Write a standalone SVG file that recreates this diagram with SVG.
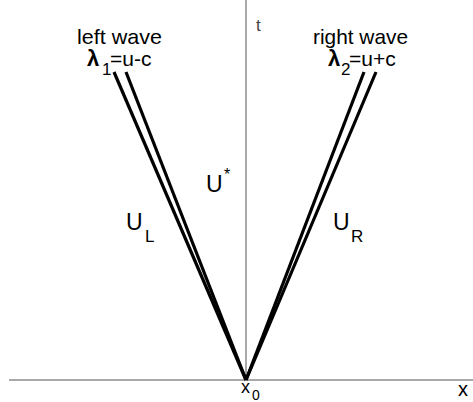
<svg xmlns="http://www.w3.org/2000/svg" width="473" height="402" viewBox="0 0 473 402">
<style>
.axis{stroke:#8c8c8c;stroke-width:1.5;fill:none}
.wave{stroke:#000;stroke-width:3.2;fill:none;stroke-linecap:butt}
text{font-family:"Liberation Sans",Arial,sans-serif;fill:#000}
.lbl{font-size:21px}
.st{font-size:23px}
.sub{font-size:17px}
</style>
<rect width="473" height="402" fill="#fff"/>
<g id="axes">
<line class="axis" x1="246" y1="0" x2="246" y2="380"/>
<line class="axis" x1="9" y1="380" x2="473" y2="380"/>
<text x="256" y="31" style="font-size:17px;fill:#444">t</text>
<text x="458" y="396" style="font-size:20px">x</text>
<text x="241" y="393" style="font-size:18px">x</text>
<text x="252" y="400" style="font-size:14px">0</text>
</g>
<g id="connectors">
<line class="wave" x1="114" y1="72" x2="246" y2="380"/>
<line class="wave" x1="126" y1="72" x2="246" y2="380"/>
<line class="wave" x1="364" y1="72" x2="246" y2="380"/>
<line class="wave" x1="376" y1="72" x2="246" y2="380"/>
</g>
<g id="left-wave">
<text class="lbl" x="77" y="44" textLength="85" lengthAdjust="spacingAndGlyphs">left wave</text>
<text x="87" y="66" style="font-size:22px;font-weight:bold">λ</text>
<text x="102" y="75" class="sub">1</text>
<text x="110" y="66" class="lbl">=u-c</text>
</g>
<g id="right-wave">
<text class="lbl" x="313" y="44" textLength="95" lengthAdjust="spacingAndGlyphs">right wave</text>
<text x="328" y="66" style="font-size:22px;font-weight:bold">λ</text>
<text x="341" y="75" class="sub">2</text>
<text x="349" y="66" class="lbl">=u+c</text>
</g>
<g id="u-star">
<text class="st" x="206" y="192">U</text>
<text x="224" y="180" style="font-size:16px">*</text>
</g>
<g id="u-left">
<text class="st" x="126" y="230">U</text>
<text x="145" y="242" class="sub">L</text>
</g>
<g id="u-right">
<text class="st" x="333" y="230">U</text>
<text x="351" y="242" class="sub">R</text>
</g>
</svg>
